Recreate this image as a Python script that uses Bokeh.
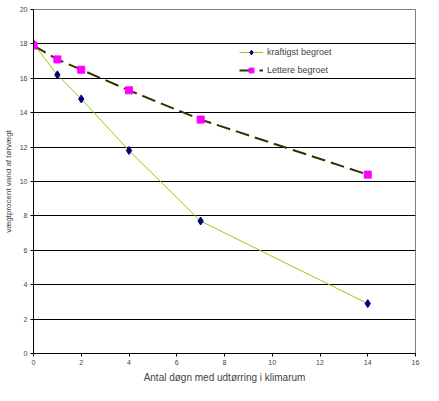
from bokeh.plotting import figure
from bokeh.models import FixedTicker, Legend, LegendItem, Range1d
from bokeh.embed import file_html
from bokeh.resources import INLINE

days = [0, 1, 2, 4, 7, 14]
kraftigst = [18.0, 16.2, 14.8, 11.8, 7.7, 2.9]
lettere = [17.9, 17.1, 16.5, 15.3, 13.6, 10.4]
x_ticks = [0, 2, 4, 6, 8, 10, 12, 14, 16]
y_ticks = [0, 2, 4, 6, 8, 10, 12, 14, 16, 18, 20]

p = figure(width=423, height=385, output_backend="svg", toolbar_location=None,
           x_range=Range1d(0, 16), y_range=Range1d(0, 20),
           min_border_left=32, min_border_right=8, min_border_top=9, min_border_bottom=32)
p.outline_line_color = "#808080"
p.outline_line_width = 1
p.background_fill_color = "white"
p.border_fill_color = "white"

p.xgrid.visible = False
p.ygrid.ticker = FixedTicker(ticks=y_ticks[1:-1])
p.ygrid.grid_line_color = "black"
p.ygrid.grid_line_width = 1

for ax in (p.xaxis[0], p.yaxis[0]):
    ax.axis_line_color = "black"
    ax.major_tick_line_color = "black"
    ax.major_tick_out = 3
    ax.major_tick_in = 0
    ax.minor_tick_line_color = None
    ax.major_label_text_font = "Liberation Sans"
    ax.major_label_text_font_size = "7px"
    ax.major_label_standoff = 3
    ax.axis_label_text_font = "Liberation Sans"
    ax.axis_label_text_font_style = "normal"
    ax.axis_label_standoff = 4
p.xaxis.axis_label_text_font_size = "10px"
p.yaxis.axis_label_text_font_size = "8px"
p.xaxis.ticker = FixedTicker(ticks=x_ticks)
p.yaxis.ticker = FixedTicker(ticks=y_ticks)
p.xaxis.axis_label = "Antal døgn med udtørring i klimarum"
p.yaxis.axis_label = "vægtprocent vand af tørvægt"

l1 = p.line(days, kraftigst, line_color="#99CC00", line_width=1)
m1 = p.scatter(days, kraftigst, marker="diamond", size=8, fill_color="#000080", line_color="#000080")
l2 = p.line(days, lettere, line_color="#333300", line_width=2, line_dash="14 6")
m2 = p.scatter(days, lettere, marker="square", size=7, fill_color="#FF00FF", line_color="#FF00FF")

legend = Legend(items=[LegendItem(label="kraftigst begroet", renderers=[l1, m1]),
                       LegendItem(label="Lettere begroet", renderers=[l2, m2])],
                border_line_color=None, background_fill_color="white",
                background_fill_alpha=1.0, label_text_font="Liberation Sans",
                label_text_font_size="9px", glyph_width=24, glyph_height=12,
                spacing=6, padding=3, margin=0, label_standoff=4)
legend.location = (206, 277)
p.add_layout(legend)

open("out.html", "w").write(file_html(p, INLINE))
